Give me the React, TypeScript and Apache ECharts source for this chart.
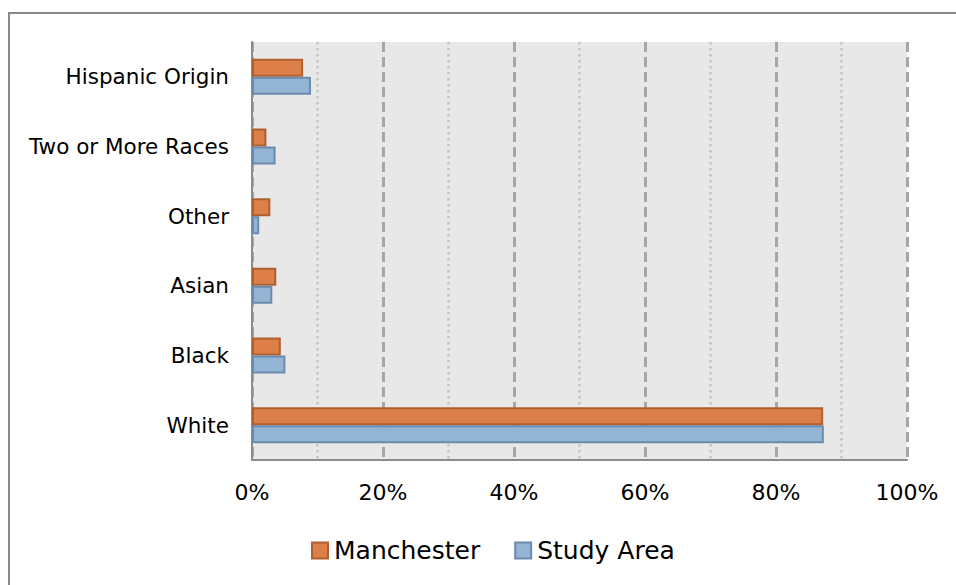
import React, { useEffect, useRef } from "react";
import * as echarts from "echarts";

const categories = ["White", "Black", "Asian", "Other", "Two or More Races", "Hispanic Origin"];
const manchester = [0.872, 0.044, 0.037, 0.028, 0.022, 0.078];
const studyArea = [0.873, 0.051, 0.031, 0.011, 0.036, 0.09];
const xTicks = [0, 0.2, 0.4, 0.6, 0.8, 1];

const FONT = "DejaVu Sans";

export default function App() {
  const ref = useRef<HTMLDivElement>(null);
  useEffect(() => {
    if (!ref.current) return;
    const chart = echarts.init(ref.current, undefined, { renderer: "svg" });
    chart.setOption({
      animation: false,
      textStyle: { fontFamily: FONT, color: "#000" },
      graphic: [
        {
          type: "rect",
          shape: { x: 9, y: 13, width: 1000, height: 1000 },
          style: { fill: "none", stroke: "#8a8a8a", lineWidth: 2 },
          z: -10,
        },
      ],
      grid: {
        left: 252,
        right: 49,
        top: 42,
        bottom: 125,
        show: true,
        backgroundColor: "#e8e8e8",
        borderWidth: 0,
      },
      legend: {
        bottom: 22,
        left: 311,
        padding: 0,
        itemWidth: 16,
        itemHeight: 16,
        itemGap: 34,
        icon: "rect",
        textStyle: { fontSize: 25, fontFamily: FONT, color: "#000", padding: [0, 0, 0, 1] },
        data: ["Manchester", "Study Area"],
      },
      xAxis: {
        type: "value",
        min: 0,
        max: 1,
        interval: 0.2,
        axisLine: { show: true, lineStyle: { color: "#8c8c8c", width: 2 } },
        axisTick: { show: false },
        axisLabel: {
          fontSize: 22,
          color: "#000",
          margin: 21,
          formatter: (v: number) => (xTicks.includes(Math.round(v * 10) / 10) ? Math.round(v * 100) + "%" : ""),
        },
        splitLine: { show: true, lineStyle: { color: "#a6a6a6", width: 3, type: [10, 5] } },
        minorTick: { show: false, splitNumber: 2 },
        minorSplitLine: { show: true, lineStyle: { color: "#c4c4c4", width: 2.5, type: [2.5, 3.5] } },
      },
      yAxis: {
        type: "category",
        data: categories,
        axisLine: { show: true, lineStyle: { color: "#8c8c8c", width: 2 } },
        axisTick: { show: false },
        axisLabel: { fontSize: 21.5, color: "#000", margin: 23 },
      },
      series: [
        {
          name: "Manchester",
          type: "bar",
          data: manchester,
          barWidth: 18,
          barGap: "0%",
          itemStyle: { color: "#dd7f48", borderColor: "#b0602f", borderWidth: 2 },
        },
        {
          name: "Study Area",
          type: "bar",
          data: studyArea,
          barWidth: 18,
          barGap: "0%",
          itemStyle: { color: "#94b4d3", borderColor: "#6b8aad", borderWidth: 2 },
        },
      ],
    });
    return () => chart.dispose();
  }, []);
  return (
    <div
      ref={ref}
      style={{ position: "fixed", left: 0, top: 0, width: 956, height: 585, background: "#fff" }}
    />
  );
}
